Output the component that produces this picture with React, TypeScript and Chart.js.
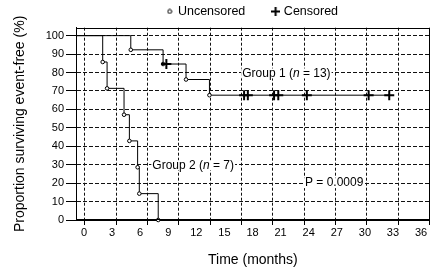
import React, { useEffect, useRef } from 'react';
import { Chart, registerables } from 'chart.js';

Chart.register(...registerables);

const FONT = "'Liberation Sans', Arial, Helvetica, sans-serif";

// Axis ranges (months / percent)
const X_MIN = -0.85;
const X_MAX = 36.92;
const X_STEP = 3;
const GRID_X_MIN = -0.827;
const GRID_X_MAX = 33;
const Y_MIN = 0;
const Y_MAX = 104.3;
const Y_STEP = 10;

// Group 1 (n = 13)
const GROUP1_TIMES = [X_MIN, 5.0, 8.45, 8.8, 10.9, 13.4, 17.1, 17.5, 20.3, 20.75, 23.8, 30.4, 32.6];
const GROUP1_SURV = [100, 92.3, 84.6, 84.6, 76.2, 67.7, 67.7, 67.7, 67.7, 67.7, 67.7, 67.7, 67.7];
const GROUP1_KIND = ['start', 'event', 'event', 'censor', 'event', 'event', 'censor', 'censor', 'censor', 'censor', 'censor', 'censor', 'censor'];

// Group 2 (n = 7)
const GROUP2_TIMES = [X_MIN, 2.0, 2.47, 4.28, 4.85, 5.73, 5.91, 7.93];
const GROUP2_SURV = [100, 85.7, 71.4, 57.1, 42.9, 28.6, 14.3, 0];
const GROUP2_KIND = ['start', 'event', 'event', 'event', 'event', 'event', 'event', 'event'];

const LEGEND_TEXTS = ['Uncensored', 'Censored'];
const LEGEND_STYLES = ['circle', 'cross'];

const X_TITLE = 'Time (months)';
const Y_TITLE = 'Proportion surviving event-free (%)';

// annotation texts: [text, italic] parts, anchored at data coords (left, middle)
const NOTE_PARTS: [string, boolean][][] = [
  [['Group 1 (', false], ['n', true], [' = 13)', false]],
  [['Group 2 (', false], ['n', true], [' = 7)', false]],
  [['P = 0.0009', false]],
];
const NOTE_X = [16.9, 7.3, 23.6];
const NOTE_Y = [79.5, 29.7, 20];

function buildDataset(label: string, times: number[], surv: number[], kinds: string[]) {
  return {
    label,
    data: times.map((t, i) => ({ x: t, y: surv[i] })),
    xAxisID: 'x',
    yAxisID: 'y',
    borderColor: '#000',
    borderWidth: 1,
    stepped: 'before' as const,
    fill: false,
    tension: 0,
    clip: false as const,
    pointStyle: kinds.map((k) => (k === 'censor' ? 'cross' : 'circle')),
    pointRadius: kinds.map((k) => (k === 'start' ? 0 : k === 'censor' ? 5 : 1.8)),
    pointBorderWidth: kinds.map((k) => (k === 'censor' ? 2 : 1)),
    pointBackgroundColor: '#fff',
    pointBorderColor: '#000',
  };
}

// small icons for the legend keys
function makeIcon(style: string): HTMLCanvasElement {
  const c = document.createElement('canvas');
  const ctx = c.getContext('2d') as CanvasRenderingContext2D;
  if (style === 'cross') {
    c.width = 9;
    c.height = 9;
    ctx.fillStyle = '#000';
    ctx.fillRect(0, 3.5, 9, 2);
    ctx.fillRect(3.5, 0, 2, 9);
  } else {
    c.width = 6;
    c.height = 6;
    ctx.strokeStyle = '#000';
    ctx.fillStyle = '#fff';
    ctx.lineWidth = 1;
    ctx.beginPath();
    ctx.arc(3, 3, 2, 0, Math.PI * 2);
    ctx.fill();
    ctx.stroke();
  }
  return c;
}

const notesPlugin = {
  id: 'notes',
  beforeDatasetsDraw(chart: any) {
    const { ctx, scales } = chart;
    const x = scales.x;
    const y = scales.y;
    ctx.save();
    ctx.textBaseline = 'middle';
    ctx.textAlign = 'left';
    NOTE_PARTS.forEach((parts, n) => {
      let px = x.getPixelForValue(NOTE_X[n]);
      const py = y.getPixelForValue(NOTE_Y[n]);
      const widths = parts.map(([t, it]) => {
        ctx.font = `${it ? 'italic ' : ''}12px ${FONT}`;
        return ctx.measureText(t).width;
      });
      const total = widths.reduce((a, b) => a + b, 0);
      ctx.fillStyle = '#fff';
      ctx.fillRect(px - 1, py - 5, total + 2, 10);
      ctx.fillStyle = '#000';
      parts.forEach(([t, it], i) => {
        ctx.font = `${it ? 'italic ' : ''}12px ${FONT}`;
        ctx.fillText(t, px, py);
        px += widths[i];
      });
    });
    ctx.restore();
  },
};

const framePlugin = {
  id: 'frame',
  afterDatasetsDraw(chart: any) {
    const { ctx, chartArea } = chart;
    const l = Math.round(chartArea.left) + 0.5;
    const r = Math.round(chartArea.right) - 0.5;
    const t = Math.round(chartArea.top) + 0.5;
    const b = Math.round(chartArea.bottom) - 0.5;
    ctx.save();
    ctx.setLineDash([]);
    ctx.strokeStyle = '#000';
    ctx.lineWidth = 1;
    ctx.beginPath();
    ctx.moveTo(l, t);
    ctx.lineTo(r, t);
    ctx.lineTo(r, b);
    ctx.moveTo(l, t);
    ctx.lineTo(l, b);
    ctx.lineTo(r, b);
    ctx.stroke();
    ctx.restore();
  },
};

const LEGEND_PAD = 28.3;

export default function App() {
  const ref = useRef<HTMLCanvasElement>(null);
  useEffect(() => {
    const icons = LEGEND_STYLES.map(makeIcon);
    const chart = new Chart(ref.current as HTMLCanvasElement, {
      type: 'line',
      data: {
        datasets: [
          buildDataset('Group 1', GROUP1_TIMES, GROUP1_SURV, GROUP1_KIND),
          buildDataset('Group 2', GROUP2_TIMES, GROUP2_SURV, GROUP2_KIND),
        ] as any,
      },
      options: {
        animation: false,
        responsive: false,
        devicePixelRatio: 1,
        events: [],
        layout: { padding: { top: 5.2 - LEGEND_PAD, right: 8.3, bottom: 0, left: 0 } },
        plugins: {
          tooltip: { enabled: false },
          legend: {
            display: true,
            position: 'top',
            align: 'center',
            fullSize: false,
            labels: {
              usePointStyle: true,
              pointStyleWidth: 4,
              boxHeight: 4,
              padding: LEGEND_PAD,
              color: '#000',
              font: { family: FONT, size: 12.5 },
              generateLabels: () =>
                LEGEND_TEXTS.map((text, i) => ({
                  text,
                  pointStyle: icons[i] as any,
                  fillStyle: '#fff',
                  strokeStyle: '#000',
                  lineWidth: 1,
                  hidden: false,
                  fontColor: '#000',
                  datasetIndex: i,
                })),
            },
          },
        },
        scales: {
          x: {
            type: 'linear',
            position: 'bottom',
            weight: 1,
            min: X_MIN,
            max: X_MAX,
            grid: { display: false, drawTicks: false },
            border: { display: false },
            ticks: {
              stepSize: X_STEP,
              includeBounds: false,
              padding: 1,
              color: '#000',
              maxRotation: 0,
              font: { family: FONT, size: 11 },
            },
            title: {
              display: true,
              text: X_TITLE,
              color: '#000',
              font: { family: FONT, size: 14 },
              padding: { top: 11.4, bottom: 5.6 },
            },
          },
          x2: {
            type: 'linear',
            position: 'bottom',
            weight: 0,
            min: GRID_X_MIN,
            max: GRID_X_MAX,
            grid: {
              display: true,
              color: '#111',
              lineWidth: 1,
              drawTicks: true,
              tickLength: 5,
              tickColor: '#000',
              tickBorderDash: [],
            },
            border: { display: true, color: '#000', width: 1, dash: [3, 2] },
            ticks: { stepSize: X_STEP, includeBounds: false, display: false },
          },
          y: {
            type: 'linear',
            position: 'left',
            min: Y_MIN,
            max: Y_MAX,
            grid: {
              display: true,
              color: '#111',
              lineWidth: 1,
              drawTicks: true,
              tickLength: 10,
              tickColor: '#000',
              tickBorderDash: [],
            },
            border: { display: true, color: '#000', width: 1, dash: [4, 2] },
            ticks: {
              stepSize: Y_STEP,
              includeBounds: false,
              padding: 2,
              color: '#000',
              font: { family: FONT, size: 11 },
            },
            title: {
              display: true,
              text: Y_TITLE,
              color: '#000',
              font: { family: FONT, size: 14 },
              padding: { top: 11.6, bottom: 15.25 },
            },
          },
        },
      } as any,
      plugins: [notesPlugin, framePlugin],
    });
    return () => chart.destroy();
  }, []);

  return (
    <div style={{ position: 'fixed', left: 0, top: 0, width: 438, height: 274, background: '#fff' }}>
      <canvas ref={ref} width={438} height={274} style={{ display: 'block', width: 438, height: 274 }} />
    </div>
  );
}
